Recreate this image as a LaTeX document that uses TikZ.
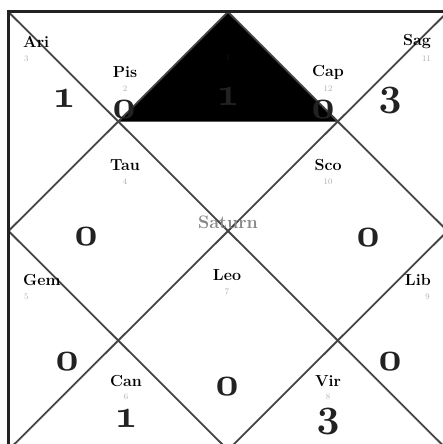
\documentclass[tikz,border=0pt]{standalone}
\usetikzlibrary{calc}
\definecolor{bordercol}{HTML}{222222}
\definecolor{linecol}{HTML}{444444}
\definecolor{numcol}{HTML}{333333}
\definecolor{cntcol}{HTML}{222222}
\definecolor{planetcol}{HTML}{888888}
\newcommand{\cntdig}[1]{\scalebox{4}{\fontsize{10}{10}\usefont{OML}{cmm}{b}{it}#1}}
\begin{document}
\begin{tikzpicture}[x=1pt,y=-1pt,
  sign/.style={font=\fontsize{16}{16}\selectfont\bfseries, inner sep=0pt, text=black},
  hnum/.style={font=\fontsize{8.5}{8.5}\selectfont, text=numcol, text opacity=0.4, inner sep=0pt},
  cnt/.style={text=cntcol, inner sep=0pt},
  planet/.style={font=\fontsize{18}{18}\selectfont\bfseries, text=planetcol, inner sep=0pt},
  inner/.style={draw=linecol, line width=1.8pt},
  outer/.style={draw=bordercol, line width=3pt}]
\useasboundingbox (0,0) rectangle (443,444);
\clip (0,0) rectangle (443,444);
\fill[white] (0,0) rectangle (443,444);
% frame points
\coordinate (TL) at (8.5,12);
\coordinate (TR) at (447.5,12);
\coordinate (BL) at (8.5,450);
\coordinate (BR) at (447.5,450);
\coordinate (T) at (228,12);
\coordinate (B) at (228,450);
\coordinate (L) at (8.5,231);
\coordinate (R) at (447.5,231);
\coordinate (QL) at ($(T)!0.5!(L)$);
\coordinate (QR) at ($(T)!0.5!(R)$);
% highlighted triangle
\fill[black] (T) -- (QL) -- (QR) -- cycle;
% lines
\draw[inner] (TL) -- (BR);
\draw[inner] (TR) -- (BL);
\draw[inner] (T) -- (R) -- (B) -- (L) -- cycle;
\draw[outer] (TL) rectangle (BR);
% house 1 (top)
\node[hnum] (n1) at (228,58) {1};
\node[cnt] (c1) at (228,97) {\cntdig{1}};
% house 2
\node[sign] (s2) at (125,72) {Pis};
\node[hnum] (n2) at (125,88.5) {2};
\node[cnt] (c2) at (124,110) {\cntdig{0}};
% house 3
\node[sign, anchor=west] (s3) at (23,42) {Ari};
\node[hnum, anchor=west] (n3) at (24,59) {3};
\node[cnt] (c3) at (64,99) {\cntdig{1}};
% house 4
\node[sign] (s4) at (125,165) {Tau};
\node[hnum] (n4) at (125,182) {4};
\node[cnt] (c4) at (86,237) {\cntdig{0}};
% house 5
\node[sign, anchor=west] (s5) at (23,280) {Gem};
\node[hnum, anchor=west] (n5) at (24,297) {5};
\node[cnt] (c5) at (67,362) {\cntdig{0}};
% house 6
\node[sign] (s6) at (126,381) {Can};
\node[hnum] (n6) at (126,397) {6};
\node[cnt] (c6) at (126,419) {\cntdig{1}};
% house 7
\node[planet] (sat) at (228,222) {Saturn};
\node[sign] (s7) at (227,275) {Leo};
\node[hnum] (n7) at (227,292) {7};
\node[cnt] (c7) at (227,387) {\cntdig{0}};
% house 8
\node[sign] (s8) at (328,381) {Vir};
\node[hnum] (n8) at (328,397) {8};
\node[cnt] (c8) at (328,421) {\cntdig{3}};
% house 9
\node[sign, anchor=east] (s9) at (431,280) {Lib};
\node[hnum, anchor=east] (n9) at (430,297) {9};
\node[cnt] (c9) at (390,362) {\cntdig{0}};
% house 10
\node[sign] (s10) at (328,165) {Sco};
\node[hnum] (n10) at (328,182) {10};
\node[cnt] (c10) at (368,238) {\cntdig{0}};
% house 11
\node[sign, anchor=east] (s11) at (431,42) {Sag};
\node[hnum, anchor=east] (n11) at (431,58.5) {11};
\node[cnt] (c11) at (390,100) {\cntdig{3}};
% house 12
\node[sign] (s12) at (328,72) {Cap};
\node[hnum] (n12) at (328,88.5) {12};
\node[cnt] (c12) at (323,110) {\cntdig{0}};
\end{tikzpicture}
\end{document}
